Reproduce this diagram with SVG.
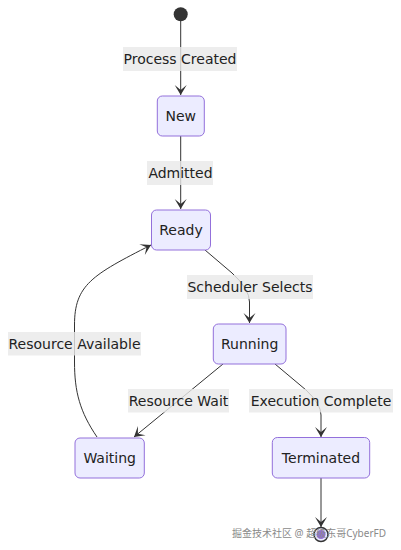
<svg xmlns="http://www.w3.org/2000/svg" width="401" height="550" viewBox="0 0 401 550">
<style>
.node rect{fill:#ECECFF;stroke:#9370DB;stroke-width:1px;}
.node text,.lbl text{font-family:"DejaVu Sans",Verdana,sans-serif;font-size:14px;fill:#222;text-anchor:middle;dominant-baseline:central;}
.lbl rect{fill:#e8e8e8;opacity:0.8;}
.edge{fill:none;stroke:#333;stroke-width:1px;}
.wm{font-family:"Noto Sans","Noto Sans CJK SC",sans-serif;font-size:10px;fill:#8a8a8a;}
</style>
<defs>
<marker id="barb" refX="19" refY="7" markerWidth="20" markerHeight="14" markerUnits="userSpaceOnUse" orient="auto">
<path d="M 19,7 L9,13 L14,7 L9,1 Z" fill="#333"/>
</marker>
</defs>
<g id="connectors">
<path class="edge" d="M180.7,21 L180.7,95" marker-end="url(#barb)"/>
<path class="edge" d="M180.7,136 L180.7,209" marker-end="url(#barb)"/>
<path class="edge" d="M205,250 L232,273 Q249.5,289 249.5,302 L249.5,323" marker-end="url(#barb)"/>
<path class="edge" d="M223,364 L134,437" marker-end="url(#barb)"/>
<path class="edge" d="M275,364 L306,390 Q321,404 321,415 L321,437" marker-end="url(#barb)"/>
<path class="edge" d="M97,437 C80,412 74.5,392 74.5,362 L74.5,325 C74.5,285 92,275 151,245" marker-end="url(#barb)"/>
<path class="edge" d="M321,478 L321,527" marker-end="url(#barb)"/>
</g>
<g id="labels">
<g class="lbl" id="lbl-created"><rect x="123" y="47" width="114" height="24"/><text x="180" y="58.5">Process Created</text></g>
<g class="lbl" id="lbl-admitted"><rect x="147" y="161" width="66" height="24"/><text x="180.5" y="172.5">Admitted</text></g>
<g class="lbl" id="lbl-sched"><rect x="187" y="275" width="126" height="24"/><text x="250" y="286.5">Scheduler Selects</text></g>
<g class="lbl" id="lbl-avail"><rect x="8" y="332" width="133" height="23.5"/><text x="74.5" y="343.5">Resource Available</text></g>
<g class="lbl" id="lbl-wait"><rect x="128" y="389" width="101" height="23.5"/><text x="178.5" y="400.5">Resource Wait</text></g>
<g class="lbl" id="lbl-exec"><rect x="249" y="389" width="144" height="23.5"/><text x="321" y="400.5">Execution Complete</text></g>
</g>
<g id="start"><circle cx="180.7" cy="14.3" r="7" fill="#333"/></g>
<g class="node" id="New"><rect x="157.3" y="96" width="47" height="40" rx="5"/><text x="180.8" y="116">New</text></g>
<g class="node" id="Ready"><rect x="151.5" y="210" width="59" height="40" rx="5"/><text x="181" y="230">Ready</text></g>
<g class="node" id="Running"><rect x="213.3" y="324" width="72.7" height="40" rx="5"/><text x="249.7" y="344">Running</text></g>
<g class="node" id="Waiting"><rect x="75" y="438" width="69.3" height="40" rx="5"/><text x="109.7" y="458">Waiting</text></g>
<g class="node" id="Terminated"><rect x="272.3" y="437.5" width="97.4" height="40.5" rx="5"/><text x="321" y="457.7">Terminated</text></g>
<g id="end"><circle cx="321" cy="534.5" r="7" fill="#ECECFF" stroke="#333" stroke-width="1.5"/><circle cx="321" cy="534.5" r="4.5" fill="#9370DB"/></g>
<text class="wm" x="232" y="537">掘金技术社区 @ 超级东哥CyberFD</text>
</svg>
